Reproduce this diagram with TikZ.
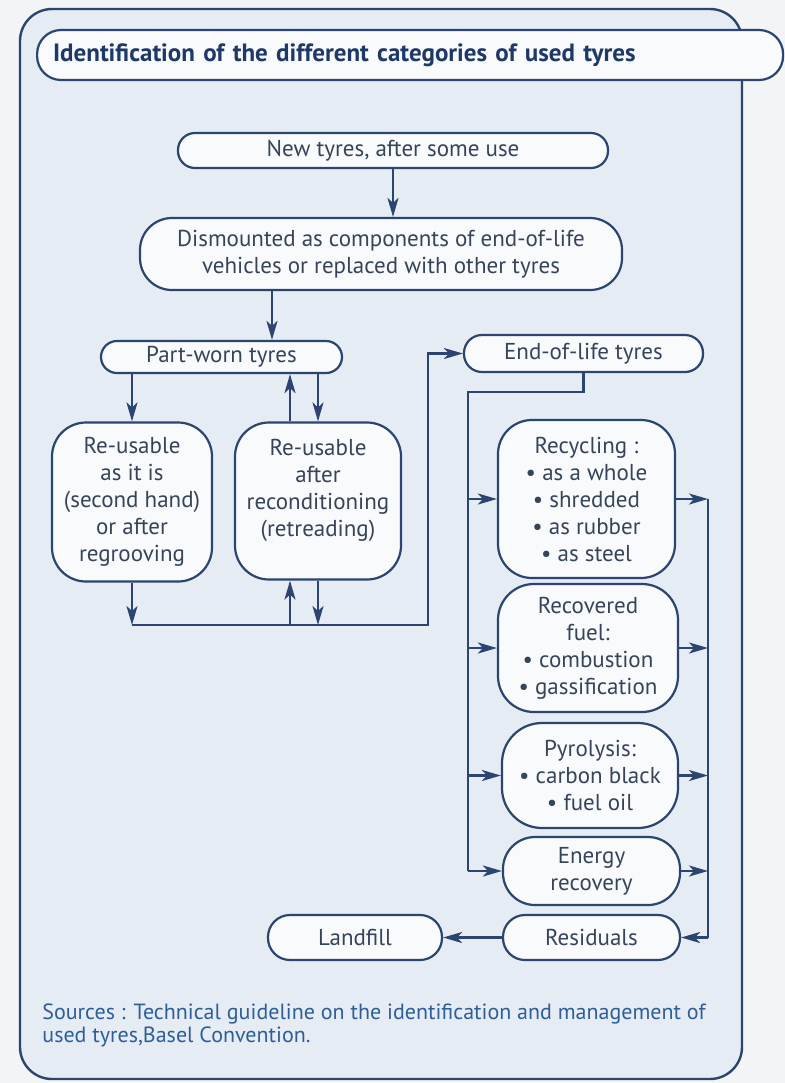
\documentclass[tikz,border=0pt]{standalone}
\usepackage{fontspec}
\setmainfont{PT Sans}
\usepackage{xcolor}
\usetikzlibrary{arrows.meta}
\definecolor{ink}{HTML}{2B4470}
\definecolor{txt}{HTML}{36445A}
\definecolor{headtxt}{HTML}{1E3868}
\definecolor{srctxt}{HTML}{2E5E98}
\definecolor{paper}{HTML}{E5ECF4}
\definecolor{page}{HTML}{F2F4F6}
\definecolor{boxfill}{HTML}{F8FAFC}

\begin{document}
\begin{tikzpicture}[x=0.5pt,y=-0.5pt,
  box/.style={draw=ink, line width=1.1pt, fill=boxfill, text=txt, align=center, inner sep=0pt,
    font=\fontsize{11.5}{13.5}\selectfont},
  flow/.style={draw=ink, line width=1.2pt, -{Stealth[length=9.5pt,width=5.5pt,inset=2.5pt]}},
  link/.style={draw=ink, line width=1.2pt}]
\fill[page] (0,0) rectangle (785,1083);
\useasboundingbox (0,0) rectangle (785,1083);
\draw[ink, line width=1.2pt, fill=paper, rounded corners=16pt] (20,9) rectangle (742,1079);

\node[box, anchor=west, text width=357pt, inner xsep=8pt, minimum height=25pt, rounded corners=12pt,
  align=left, text=headtxt, font=\bfseries\fontsize{12.5}{14}\selectfont] (title) at (36,55)
  {Identification of the different categories of used tyres};

\node[box, minimum width=215pt, minimum height=17.5pt, rounded corners=8.5pt] (new) at (393,150.5) {New tyres, after some use};
\node[box, minimum width=241pt, minimum height=36pt, rounded corners=16pt] (dism) at (381,254) {Dismounted as components of end-of-life\\vehicles or replaced with other tyres};
\node[box, minimum width=120.5pt, minimum height=16pt, rounded corners=8pt] (part) at (221.5,357) {Part-worn tyres};
\node[box, minimum width=80pt, minimum height=79.5pt, rounded corners=17pt] (reuse1) at (132,502) {Re-usable\\as it is\\(second hand)\\or after\\regrooving};
\node[box, minimum width=83pt, minimum height=78.5pt, rounded corners=17pt] (reuse2) at (318,501) {Re-usable\\after\\reconditioning\\(retreading)\\ \mbox{}};
\node[box, minimum width=119.5pt, minimum height=18.5pt, rounded corners=9pt] (eol) at (583.5,353.5) {End-of-life tyres};
\node[box, minimum width=88.5pt, minimum height=79pt, rounded corners=17pt] (recyc) at (586.5,499) {Recycling :\\\textbullet\ as a whole\\\textbullet\ shredded\\\textbullet\ as rubber\\\textbullet\ as steel};
\node[box, minimum width=90pt, minimum height=64pt, rounded corners=18pt] (fuel) at (588,648) {Recovered\\fuel:\\\textbullet\ combustion\\\textbullet\ gassification};
\node[box, minimum width=88pt, minimum height=52.5pt, rounded corners=20pt] (pyro) at (590,775.5) {Pyrolysis:\\\textbullet\ carbon black\\\textbullet\ fuel oil};
\node[box, minimum width=88.5pt, minimum height=34pt, rounded corners=16pt] (energy) at (591.5,871) {Energy\\recovery};
\node[box, minimum width=88.5pt, minimum height=22.5pt, rounded corners=11pt] (resid) at (591.5,937.5) {Residuals};
\node[box, minimum width=87pt, minimum height=22.5pt, rounded corners=11pt] (land) at (355,937.5) {Landfill};

\node[anchor=north west, align=left, inner sep=0pt, text=srctxt, font=\fontsize{11}{11.5}\selectfont] (src) at (42,1003)
  {Sources : Technical guideline on the identification and management of\\used tyres,Basel Convention.};

\coordinate (dp) at (272,0);
\coordinate (up) at (290,0);
\coordinate (dn) at (318,0);
\coordinate (bus) at (0,625);
\coordinate (riser) at (428,0);
\coordinate (split) at (0,392);
\coordinate (lbus) at (468,0);
\coordinate (rbus) at (708,0);

\draw[flow] (new.south) -- (new.south |- dism.north);
\draw[flow] (dism.south -| dp) -- (part.north -| dp);
\draw[flow] (part.south -| reuse1.north) -- (reuse1.north);
\draw[flow] (reuse2.north -| up) -- (part.south -| up);
\draw[flow] (part.south -| dn) -- (reuse2.north -| dn);
\draw[flow] (reuse1.south) -- (reuse1.south |- bus);
\draw[flow] (reuse1.south |- bus) -- (riser |- bus) -- (riser |- eol.west) -- (eol.west);
\draw[flow] (up |- bus) -- (reuse2.south -| up);
\draw[flow] (reuse2.south -| dn) -- (dn |- bus);

\draw[link] (eol.south) -- (eol.south |- split) -- (lbus |- split) -- (lbus |- energy.west);
\foreach \n in {recyc,fuel,pyro,energy} \draw[flow] (lbus |- \n.west) -- (\n.west);
\foreach \n in {recyc,fuel,pyro,energy} \draw[flow] (\n.east) -- (rbus |- \n.east);
\draw[link] (rbus |- recyc.east) -- (rbus |- resid.east);
\draw[flow] (rbus |- resid.east) -- (resid.east);
\draw[flow] (resid.west) -- (land.east);
\end{tikzpicture}
\end{document}
